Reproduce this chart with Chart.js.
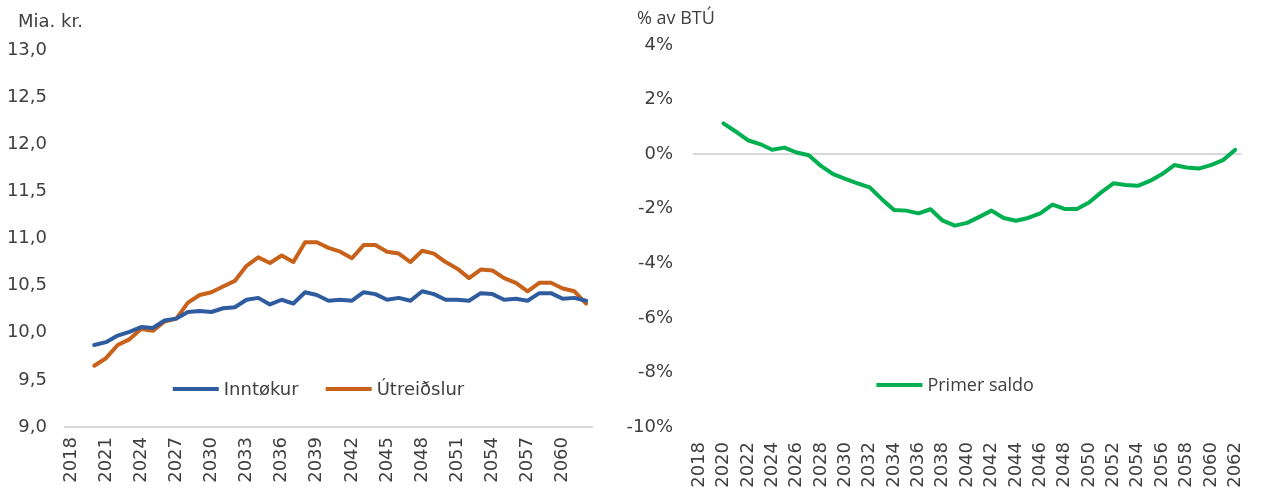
<!DOCTYPE html>
<html>
<head>
<meta charset="utf-8">
<script src="https://cdn.jsdelivr.net/npm/chart.js@4"></script>
<style>
  html, body { margin: 0; padding: 0; background: #fff; }
  #wrap { display: flex; width: 1272px; height: 491px; }
  #left { width: 620px; height: 491px; }
  #right { width: 652px; height: 491px; }
</style>
</head>
<body>
<div id="wrap">
  <div id="left"><canvas id="chart-left"></canvas></div>
  <div id="right"><canvas id="chart-right"></canvas></div>
</div>
<script>
// years on the category axis, series start in 2020
const years = [];
for (let y = 2018; y <= 2062; y++) years.push(String(y));
const firstDataYear = 2020;

// mia. kr.
const inntokur = [9.87, 9.90, 9.97, 10.01, 10.06, 10.05, 10.13, 10.15, 10.22, 10.23,
  10.22, 10.26, 10.27, 10.35, 10.37, 10.30, 10.35, 10.31, 10.43, 10.40,
  10.34, 10.35, 10.34, 10.43, 10.41, 10.35, 10.37, 10.34, 10.44, 10.41,
  10.35, 10.35, 10.34, 10.42, 10.41, 10.35, 10.36, 10.34, 10.42, 10.42,
  10.36, 10.37, 10.34];
const utreidslur = [9.65, 9.73, 9.87, 9.93, 10.04, 10.02, 10.12, 10.15, 10.32, 10.40,
  10.43, 10.49, 10.55, 10.71, 10.80, 10.74, 10.82, 10.75, 10.96, 10.96,
  10.90, 10.86, 10.79, 10.93, 10.93, 10.86, 10.84, 10.75, 10.87, 10.84,
  10.75, 10.68, 10.58, 10.67, 10.66, 10.58, 10.53, 10.44, 10.53, 10.53,
  10.47, 10.44, 10.31];

// % av BTÚ
const primerSaldo = [1.13, 0.83, 0.51, 0.37, 0.16, 0.24, 0.06, -0.04, -0.43, -0.73,
  -0.91, -1.07, -1.22, -1.65, -2.05, -2.07, -2.17, -2.02, -2.44, -2.62,
  -2.52, -2.30, -2.07, -2.34, -2.44, -2.34, -2.17, -1.85, -2.01, -2.01,
  -1.77, -1.40, -1.07, -1.13, -1.16, -0.98, -0.73, -0.40, -0.49, -0.53,
  -0.40, -0.22, 0.16];

const leftTicks = { min: 9, max: 13, step: 0.5 };
const rightTicks = { min: -10, max: 4, step: 2 };

const textColor = '#404040';
const axisColor = '#d9d9d9';
const verdana = 'DejaVu Sans';

function pad(values) {
  const lead = years.indexOf(String(firstDataYear));
  return new Array(lead).fill(null).concat(values);
}

function lineSet(label, values, color) {
  return {
    label: label,
    data: pad(values),
    borderColor: color,
    backgroundColor: color,
    borderWidth: 4,
    pointRadius: 0,
    tension: 0,
    borderJoinStyle: 'round',
    borderCapStyle: 'round'
  };
}

// legend drawn inside the plot, centred, near the bottom
const innerLegend = {
  id: 'innerLegend',
  afterDraw(chart, args, opts) {
    const ctx = chart.ctx;
    const area = chart.chartArea;
    ctx.save();
    ctx.font = opts.font;
    const items = chart.data.datasets.map(ds => ({
      label: ds.label, color: ds.borderColor, w: 46 + 5 + ctx.measureText(ds.label).width
    }));
    const gap = 27;
    let total = items.reduce((s, it) => s + it.w, 0) + gap * (items.length - 1);
    let x = (area.left + area.right) / 2 - total / 2 + (opts.shift || 0);
    const y = area.bottom - opts.fromBottom;
    items.forEach(it => {
      ctx.strokeStyle = it.color;
      ctx.lineWidth = 4;
      ctx.beginPath();
      ctx.moveTo(x, y);
      ctx.lineTo(x + 46, y);
      ctx.stroke();
      ctx.fillStyle = textColor;
      ctx.textBaseline = 'middle';
      ctx.textAlign = 'left';
      ctx.fillText(it.label, x + 51, y + 1);
      x += it.w + gap;
    });
    ctx.restore();
  }
};

// unit text above the y axis
const unitTitle = {
  id: 'unitTitle',
  afterDraw(chart, args, opts) {
    const ctx = chart.ctx;
    ctx.save();
    ctx.font = opts.font;
    ctx.fillStyle = textColor;
    ctx.textBaseline = 'middle';
    ctx.textAlign = 'left';
    ctx.fillText(opts.text, opts.x, opts.y);
    ctx.restore();
  }
};

new Chart(document.getElementById('chart-left'), {
  type: 'line',
  data: {
    labels: years,
    datasets: [
      lineSet('Inntøkur', inntokur, '#2f5c9e'),
      lineSet('Útreiðslur', utreidslur, '#c8611a')
    ]
  },
  options: {
    responsive: true,
    maintainAspectRatio: false,
    animation: false,
    layout: { padding: { top: 50, right: 28, left: 0, bottom: 0 } },
    plugins: {
      legend: { display: false },
      tooltip: { enabled: false },
      innerLegend: { font: '18px "DejaVu Sans"', fromBottom: 38, shift: -10 },
      unitTitle: { text: 'Mia. kr.', font: '18px "DejaVu Sans"', x: 18, y: 22 }
    },
    scales: {
      x: {
        offset: true,
        grid: { display: false, drawTicks: false },
        border: { display: true, color: axisColor, width: 2 },
        ticks: {
          autoSkip: false,
          minRotation: 90,
          maxRotation: 90,
          padding: 10,
          color: textColor,
          font: { family: verdana, size: 18 },
          callback: function(v, i) { return (i % 3 === 0) ? years[i] : ''; }
        },
        afterFit: s => { s.height = 64; }
      },
      y: {
        min: leftTicks.min,
        max: leftTicks.max,
        grid: { display: false, drawTicks: false },
        border: { display: false },
        ticks: {
          stepSize: leftTicks.step,
          padding: 18,
          color: textColor,
          font: { family: verdana, size: 18 },
          callback: v => v.toFixed(1).replace('.', ',')
        },
        afterFit: s => { s.width = 65; }
      }
    }
  },
  plugins: [innerLegend, unitTitle]
});

new Chart(document.getElementById('chart-right'), {
  type: 'line',
  data: {
    labels: years,
    datasets: [lineSet('Primer saldo', primerSaldo, '#00b050')]
  },
  options: {
    responsive: true,
    maintainAspectRatio: false,
    animation: false,
    layout: { padding: { top: 45, right: 15, left: 0, bottom: 0 } },
    plugins: {
      legend: { display: false },
      tooltip: { enabled: false },
      innerLegend: { font: '18px "Open Sans"', fromBottom: 42, shift: -12 },
      unitTitle: { text: '% av BTÚ', font: '18px "Open Sans"', x: 17, y: 19 }
    },
    scales: {
      x: {
        offset: true,
        grid: { display: false, drawTicks: false },
        border: { display: false },
        ticks: {
          autoSkip: false,
          minRotation: 90,
          maxRotation: 90,
          padding: 15,
          color: textColor,
          font: { family: verdana, size: 18 },
          callback: function(v, i) { return (i % 2 === 0) ? years[i] : ''; }
        },
        afterFit: s => { s.height = 64; }
      },
      y: {
        min: rightTicks.min,
        max: rightTicks.max,
        grid: {
          drawTicks: false,
          lineWidth: 2,
          color: c => (c.tick && c.tick.value === 0) ? axisColor : 'rgba(0,0,0,0)'
        },
        border: { display: false },
        ticks: {
          stepSize: rightTicks.step,
          padding: 20,
          color: textColor,
          font: { family: verdana, size: 18 },
          callback: v => v + '%'
        },
        afterFit: s => { s.width = 73; }
      }
    }
  },
  plugins: [innerLegend, unitTitle]
});
</script>
</body>
</html>
